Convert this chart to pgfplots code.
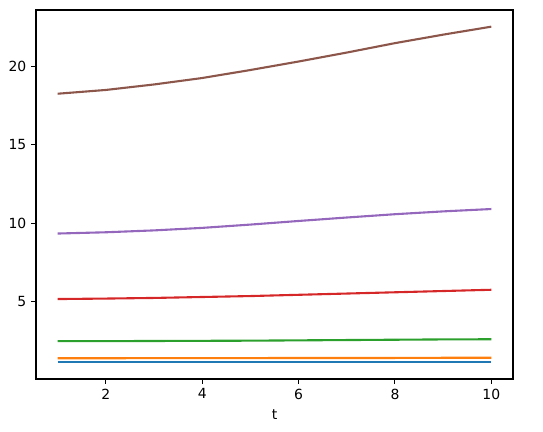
\documentclass[border=0pt]{standalone}
\usepackage{pgfplots}
\pgfplotsset{compat=1.18}
\usepackage{fontspec}
\setmainfont{DejaVu Sans}
\definecolor{c0}{HTML}{1F77B4}
\definecolor{c1}{HTML}{FF7F0E}
\definecolor{c2}{HTML}{2CA02C}
\definecolor{c3}{HTML}{D62728}
\definecolor{c4}{HTML}{9467BD}
\definecolor{c5}{HTML}{8C564B}

\pgfplotstableread{
t   a     b     c     d     e      f
1   1.19  1.40  2.49  5.17  9.34   18.24
2   1.19  1.40  2.49  5.20  9.42   18.48
3   1.19  1.41  2.50  5.24  9.54   18.83
4   1.19  1.41  2.51  5.30  9.70   19.24
5   1.19  1.41  2.52  5.36  9.91   19.75
6   1.19  1.42  2.54  5.44  10.14  20.29
7   1.19  1.42  2.56  5.52  10.36  20.86
8   1.19  1.42  2.58  5.60  10.57  21.46
9   1.19  1.43  2.60  5.68  10.75  22.00
10  1.19  1.43  2.61  5.76  10.90  22.51
}\data

\begin{document}
\fontsize{14}{16}\selectfont
\begin{tikzpicture}[x=1bp,y=1bp]
\begin{axis}[
    at={(0,0)}, anchor=south west,
    scale only axis,
    width=477bp, height=369bp,
    xmin=0.55, xmax=10.45,
    ymin=0.08, ymax=23.57,
    xtick={2,4,6,8,10},
    ytick={5,10,15,20},
    tick align=outside,
    xtick pos=left, ytick pos=left,
    major tick length=4.9bp,
    every tick/.style={black, line width=1.1bp},
    axis line style={line width=1.1bp},
    /pgf/number format/assume math mode=true,
    ticklabel style={font=\fontsize{14}{16}\selectfont},
    xlabel={t},
    xlabel style={font=\fontsize{14}{16}\selectfont, yshift=-1bp},
    every axis plot/.append style={line width=2.1bp, no markers},
]
\addplot[c0] table[x=t, y=a] {\data};
\addplot[c1] table[x=t, y=b] {\data};
\addplot[c2] table[x=t, y=c] {\data};
\addplot[c3] table[x=t, y=d] {\data};
\addplot[c4] table[x=t, y=e] {\data};
\addplot[c5] table[x=t, y=f] {\data};
\end{axis}
\path (-36bp,-53bp) rectangle (507bp,379bp);
\end{tikzpicture}
\end{document}
